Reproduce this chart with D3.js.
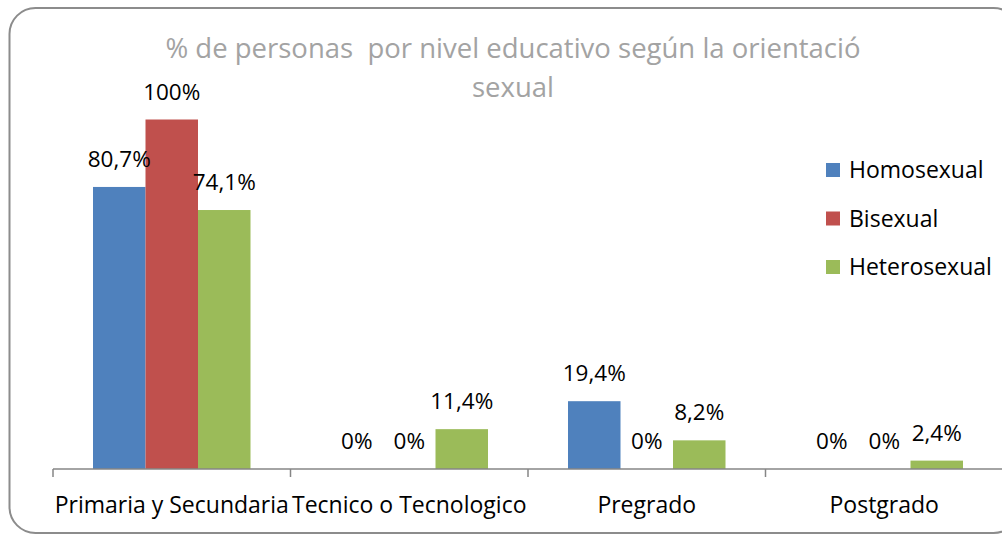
<!DOCTYPE html>
<html>
<head>
    <meta charset="utf-8">
    <style>
        body { margin: 0; background: #fff; }
        svg { display: block; font-family: 'Open Sans', 'Noto Sans', sans-serif; }
    </style>
</head>
<body>
    <svg width="1002" height="536"></svg>

<script src="https://d3js.org/d3.v7.min.js"></script>
<script>
    // data
    let categories = ["Primaria y Secundaria", "Tecnico o Tecnologico", "Pregrado", "Postgrado"]
    let series = ["Homosexual", "Bisexual", "Heterosexual"]
    let homosexual = [80.7, 0, 19.4, 0]
    let bisexual = [100, 0, 0, 0]
    let heterosexual = [74.1, 11.4, 8.2, 2.4]
    let labels = [
        ["80,7%", "0%", "19,4%", "0%"],
        ["100%", "0%", "0%", "0%"],
        ["74,1%", "11,4%", "8,2%", "2,4%"]
    ]
    let colors = ["#4F81BD", "#C0504D", "#9BBB59"]
    let titleLines = ["% de personas  por nivel educativo según la orientació", "sexual"]

    let values = [homosexual, bisexual, heterosexual]

    let svg = d3.select("svg")

    // chart frame, runs off the right edge like the original
    svg.append("rect")
        .attr("x", 9.5)
        .attr("y", 8)
        .attr("width", 1010)
        .attr("height", 525)
        .attr("rx", 26)
        .style("fill", "#fff")
        .style("stroke", "#8c8c8c")
        .style("stroke-width", 2)

    let x = d3.scaleBand()
        .domain(categories)
        .range([53, 1003])
        .padding(0)

    let xSub = d3.scaleBand()
        .domain(series)
        .range([40, x.bandwidth() - 40])

    let y = d3.scaleLinear()
        .domain([0, 100])
        .range([469, 119.5])

    // title
    svg.append("text")
        .style("white-space", "pre")
        .selectAll("tspan")
        .data(titleLines)
        .join("tspan")
        .attr("x", 513)
        .attr("y", (d, i) => 58 + i * 39)
        .attr("text-anchor", "middle")
        .style("font-size", "27.5px")
        .style("fill", "#a3a3a3")
        .text(d => d)

    // bars
    let rows = []
    series.forEach((s, si) => {
        categories.forEach((c, ci) => {
            rows.push({ s: s, si: si, c: c, v: values[si][ci], label: labels[si][ci] })
        })
    })

    svg.selectAll(".bar")
        .data(rows)
        .join("rect")
        .attr("class", "bar")
        .attr("x", d => x(d.c) + xSub(d.s))
        .attr("width", xSub.bandwidth())
        .attr("y", d => y(d.v))
        .attr("height", d => y(0) - y(d.v))
        .style("fill", d => colors[d.si])

    svg.selectAll(".lbl")
        .data(rows)
        .join("text")
        .attr("class", "lbl")
        .attr("x", d => x(d.c) + xSub(d.s) + xSub.bandwidth() / 2)
        .attr("y", d => y(d.v) - 20)
        .attr("text-anchor", "middle")
        .style("font-size", "22.5px")
        .style("fill", "#000")
        .text(d => d.label)

    // x axis
    let axis = svg.append("g")
    axis.append("line")
        .attr("x1", x.range()[0])
        .attr("x2", x.range()[1])
        .attr("y1", y(0))
        .attr("y2", y(0))
        .style("stroke", "#868686")
        .style("stroke-width", 1.5)

    let tickPos = categories.map(c => x(c)).concat([x.range()[1]])
    axis.selectAll(".tick")
        .data(tickPos)
        .join("line")
        .attr("x1", d => d)
        .attr("x2", d => d)
        .attr("y1", y(0))
        .attr("y2", y(0) + 8)
        .style("stroke", "#868686")
        .style("stroke-width", 1.5)

    axis.selectAll(".cat")
        .data(categories)
        .join("text")
        .attr("x", d => x(d) + x.bandwidth() / 2)
        .attr("y", 513)
        .attr("text-anchor", "middle")
        .style("font-size", "23px")
        .style("fill", "#000")
        .text(d => d)

    // legend
    let legend = svg.selectAll(".legend")
        .data(series)
        .join("g")
        .attr("transform", (d, i) => "translate(826," + (163 + i * 48.5) + ")")

    legend.append("rect")
        .attr("width", 14)
        .attr("height", 14)
        .style("fill", (d, i) => colors[i])

    legend.append("text")
        .attr("x", 23)
        .attr("y", 15)
        .style("font-size", "23px")
        .style("fill", "#000")
        .text(d => d)
</script>
</body>
</html>
